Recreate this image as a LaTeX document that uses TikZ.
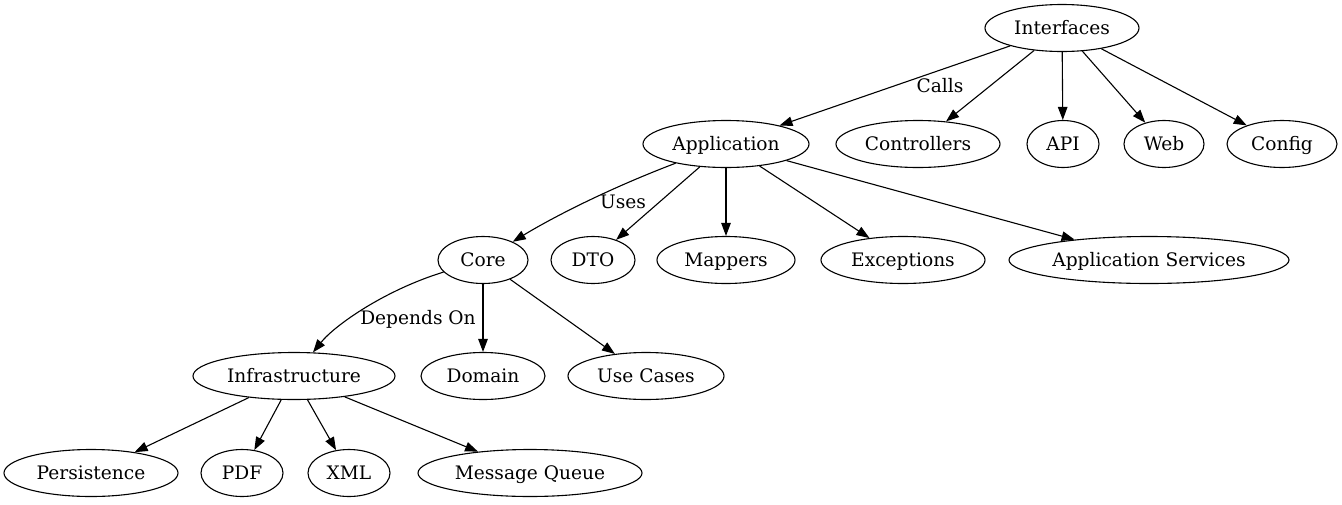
\documentclass[tikz,border=0pt]{standalone}
\usepackage{fontspec}
\setmainfont{DejaVu Serif}
\usetikzlibrary{shapes.geometric,arrows.meta}
\begin{document}
\begin{tikzpicture}[x=1pt,y=-1pt,
  gnode/.style={ellipse, draw, line width=1.1pt, minimum height=47pt, inner sep=0pt, text height=13pt, text depth=1pt, font=\fontsize{18.6}{20}\selectfont},
  edge/.style={draw, line width=1.1pt, -{Triangle[length=13pt,width=9.5pt]}},
  elabel/.style={font=\fontsize{18.6}{20}\selectfont, inner sep=0pt, text height=13pt, text depth=1pt}]
\useasboundingbox (0,0) rectangle (1342,504);
\node[gnode, minimum width=154pt] (interfaces) at (1062,28) {Interfaces};
\node[gnode, minimum width=166pt] (application) at (726,144) {Application};
\node[gnode, minimum width=164pt] (controllers) at (918,144) {Controllers};
\node[gnode, minimum width=72pt] (api) at (1063,144) {API};
\node[gnode, minimum width=80pt] (web) at (1164,144) {Web};
\node[gnode, minimum width=110pt] (config) at (1282,144) {Config};
\node[gnode, minimum width=90pt] (core) at (483,260) {Core};
\node[gnode, minimum width=84pt] (dto) at (593,260) {DTO};
\node[gnode, minimum width=138pt] (mappers) at (726,260) {Mappers};
\node[gnode, minimum width=164pt] (exceptions) at (903,260) {Exceptions};
\node[gnode, minimum width=280pt] (appservices) at (1149,260) {Application Services};
\node[gnode, minimum width=202pt] (infra) at (294,376) {Infrastructure};
\node[gnode, minimum width=124pt] (domain) at (483,376) {Domain};
\node[gnode, minimum width=156pt] (usecases) at (646,376) {Use Cases};
\node[gnode, minimum width=174pt] (persistence) at (91,473) {Persistence};
\node[gnode, minimum width=82pt] (pdf) at (242,473) {PDF};
\node[gnode, minimum width=82pt] (xml) at (349,473) {XML};
\node[gnode, minimum width=224pt] (mq) at (530,473) {Message Queue};

\path[edge] (interfaces) -- (application);
\path[edge] (interfaces) -- (controllers);
\path[edge] (interfaces) -- (api);
\path[edge] (interfaces) -- (web);
\path[edge] (interfaces) -- (config);
\path[edge] (application) .. controls (600,192) and (545,222) .. (core);
\path[edge] (application) -- (dto);
\path[edge] (application) -- (mappers);
\path[edge] (application) -- (exceptions);
\path[edge] (application) -- (appservices);
\path[edge] (core) .. controls (385,290) and (335,325) .. (infra);
\path[edge] (core) -- (domain);
\path[edge] (core) -- (usecases);
\path[edge] (infra) -- (persistence);
\path[edge] (infra) -- (pdf);
\path[edge] (infra) -- (xml);
\path[edge] (infra) -- (mq);

\node[elabel] (lcalls) at (940,86) {Calls};
\node[elabel] (luses) at (623,202) {Uses};
\node[elabel] (ldep) at (418,318) {Depends On};
\end{tikzpicture}
\end{document}
